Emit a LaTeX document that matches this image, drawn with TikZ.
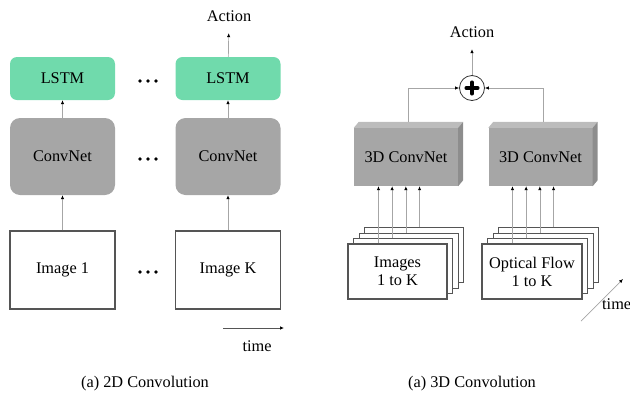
\documentclass[tikz,border=0pt]{standalone}
\usepackage{fontspec}
\setmainfont{Liberation Serif}
\usetikzlibrary{arrows.meta, calc, positioning}

\definecolor{lstmgreen}{RGB}{112,218,172}
\definecolor{netgray}{RGB}{166,166,166}
\definecolor{edgegray}{RGB}{85,85,85}

\begin{document}
\begin{tikzpicture}[
    x=1pt, y=-1pt,
    font=\fontsize{16.3}{18}\selectfont,
    % Define styles for reusable components
    lstm/.style={fill=lstmgreen, rounded corners=7pt, minimum width=105pt, minimum height=43pt, inner sep=0pt},
    convnet/.style={fill=netgray, rounded corners=10pt, minimum width=105pt, minimum height=77pt, inner sep=0pt},
    frame/.style={draw=edgegray, line width=1.1pt, fill=white, minimum width=105pt, minimum height=78pt, inner sep=0pt},
    layer/.style={draw=edgegray, line width=1.1pt, fill=white, minimum width=99pt, minimum height=55pt, inner sep=0pt, align=center},
    cube/.style={fill=netgray, minimum width=104pt, minimum height=58pt, inner sep=0pt},
    arrow/.style={draw=gray!70, line width=0.7pt, -{Latex[black, length=4pt, width=3.5pt]}},
    label/.style={inner sep=2pt}
]

    \tikzset{
        plus_sign/.pic={
            % Thick cross inside the summation circle
            \draw[line width=4.8pt, line cap=round] (-5.2,0) -- (5.2,0) (0,-5.2) -- (0,5.2);
        }
    }

    \useasboundingbox (0,0) rectangle (630,394);

    % --- 2D CONVOLUTION ---
    % first time step
    \node[lstm] (lstmA) at (62.5,78.5) {LSTM};
    \node[convnet] (convA) at (62.5,156.5) {ConvNet};
    \node[frame] (imgA) at (62.5,270) {Image 1};

    % last time step
    \node[lstm] (lstmK) at (228,78.5) {LSTM};
    \node[convnet] (convK) at (228,156.5) {ConvNet};
    \node[frame] (imgK) at (228,270) {Image K};
    \node[label] (act1) at (229,16) {Action};

    % the gaps between the steps
    \foreach \y in {81,159,272}
        \foreach \dx in {-8,0,8}
            \fill (148+\dx,\y) circle (1.8pt);

    \draw[arrow] (imgA) -- (convA);
    \draw[arrow] (convA) -- (lstmA);
    \draw[arrow] (imgK) -- (convK);
    \draw[arrow] (convK) -- (lstmK);
    \draw[arrow, shorten >=9.5pt] (lstmK) -- (act1);

    % time axis
    \coordinate (tA0) at (223,328);
    \coordinate (tA1) at (284,328);
    \draw[draw=edgegray, line width=0.7pt, -{Latex[black, length=4pt, width=3.5pt]}] (tA0) -- (tA1);
    \node (timeA) at (257,346) {time};

    \node (capA) at (145,384) {(a) 2D Convolution};

    % --- 3D CONVOLUTION ---
    % 3D ConvNet blocks with top and side faces
    \node[cube] (cnnA) at (406,157) {3D ConvNet};
    \node[cube] (cnnB) at (540.5,157) {3D ConvNet};
    \foreach \b in {cnnA,cnnB} {
        \fill[netgray!75] (\b.north west) -- ++(5,-6) -- ($(\b.north east)+(5,-6)$) -- (\b.north east) -- cycle;
        \fill[netgray!85!black] (\b.north east) -- ++(5,-6) -- ($(\b.south east)+(5,-6)$) -- (\b.south east) -- cycle;
    }
    \coordinate (outA) at ($(cnnA.north)+(2.5,-6)$);
    \coordinate (outB) at ($(cnnB.north)+(2.5,-6)$);

    % summation and output
    \node[draw=black!80, line width=0.8pt, circle, minimum size=25pt, inner sep=0pt] (plus) at (472,88) {};
    \path (plus) pic {plus_sign};
    \node[label] (act2) at (472,32) {Action};
    \draw[arrow, shorten >=9.5pt] (plus) -- (act2);
    \draw[arrow] (outA) |- (plus);
    \draw[arrow] (outB) |- (plus);

    % stacks of frames, drawn back to front
    \coordinate (stackA) at (397.5,271.5);
    \coordinate (stackB) at (532,271.5);
    \foreach \k in {3,2,1} {
        \node[layer] (imgsA\k) at ($(stackA)+(5.6*\k,-5.4*\k)$) {};
        \node[layer, minimum width=100pt] (imgsB\k) at ($(stackB)+(5.6*\k,-5.4*\k)$) {};
    }
    \node[layer] (imgsA) at (stackA) {Images\\1 to K};
    \node[layer, minimum width=100pt] (imgsB) at (stackB) {Optical Flow\\1 to K};

    % one input line per frame
    \foreach \k in {0,1,2,3} {
        \coordinate (inA\k) at ($(imgsA.north west)+(31+13.7*\k,-5.4*\k)$);
        \coordinate (inB\k) at ($(imgsB.north west)+(31+13.7*\k,-5.4*\k)$);
        \draw[arrow] (inA\k) -- (inA\k |- cnnA.south);
        \draw[arrow] (inB\k) -- (inB\k |- cnnB.south);
    }

    % time axis
    \coordinate (tB0) at (581,321);
    \coordinate (tB1) at (623,279);
    \draw[arrow] (tB0) -- (tB1);
    \node[anchor=west, inner sep=0pt] (timeB) at (602,304) {time};

    \node (capB) at (472,384) {(a) 3D Convolution};

\end{tikzpicture}
\end{document}
